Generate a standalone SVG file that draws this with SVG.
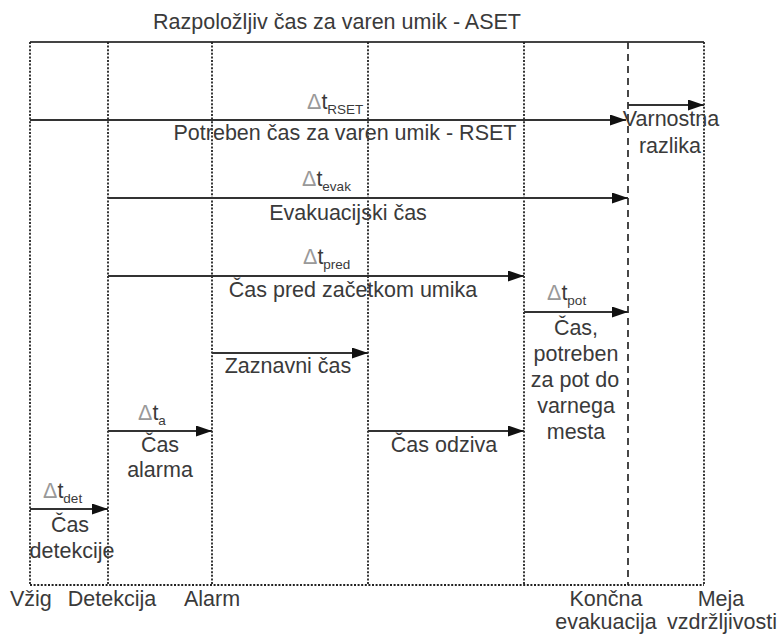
<svg xmlns="http://www.w3.org/2000/svg" width="782" height="635" viewBox="0 0 782 635">
<style>
text{font-family:"Liberation Sans",Arial,sans-serif;font-size:21.5px;fill:#3a3a3a}
.m{text-anchor:middle}
.d{fill:#999}
.s{font-size:13.5px}
.grid{stroke:#222;stroke-width:1.8;stroke-dasharray:2 1.6;fill:none}
.dash{stroke:#333;stroke-width:1.8;stroke-dasharray:7 5;fill:none}
.solid{stroke:#444;stroke-width:2;fill:none}
.arr{stroke:#333;stroke-width:2;fill:none;marker-end:url(#ah)}
</style>
<defs>
<marker id="ah" markerUnits="userSpaceOnUse" markerWidth="17" markerHeight="11" refX="16" refY="5.5" orient="auto">
<path d="M0,0 L16,5.5 L0,11 Z" fill="#111"/>
</marker>
</defs>
<g id="frame">
<line class="solid" x1="30" y1="42" x2="704" y2="42"/>
<line class="grid" x1="30" y1="42" x2="30" y2="585"/>
<line class="grid" x1="108" y1="42" x2="108" y2="585"/>
<line class="grid" x1="212" y1="42" x2="212" y2="585"/>
<line class="grid" x1="368" y1="42" x2="368" y2="585"/>
<line class="grid" x1="524" y1="42" x2="524" y2="585"/>
<line class="grid" x1="704" y1="42" x2="704" y2="585"/>
<line class="dash" x1="628" y1="42" x2="628" y2="585"/>
<line class="grid" x1="30" y1="585" x2="704" y2="585"/>
</g>
<g id="connectors">
<line class="arr" x1="30" y1="120" x2="626" y2="120"/>
<line class="arr" x1="628" y1="105" x2="704" y2="105"/>
<line class="arr" x1="108" y1="198" x2="628" y2="198"/>
<line class="arr" x1="108" y1="276" x2="524" y2="276"/>
<line class="arr" x1="524" y1="312" x2="628" y2="312"/>
<line class="arr" x1="212" y1="353" x2="368" y2="353"/>
<line class="arr" x1="108" y1="431" x2="212" y2="431"/>
<line class="arr" x1="368" y1="431" x2="524" y2="431"/>
<line class="arr" x1="30" y1="509" x2="108" y2="509"/>
</g>
<g id="title"><text class="m" x="337" y="29">Razpoložljiv čas za varen umik - ASET</text></g>
<g id="rset">
<text x="307" y="109"><tspan class="d">Δ</tspan>t<tspan class="s" dy="5">RSET</tspan></text>
<text class="m" x="345" y="140">Potreben čas za varen umik - RSET</text>
</g>
<g id="varnostna">
<text class="m" x="671" y="126">Varnostna</text>
<text class="m" x="670" y="153">razlika</text>
</g>
<g id="evak">
<text x="302" y="186"><tspan class="d">Δ</tspan>t<tspan class="s" dy="5">evak</tspan></text>
<text class="m" x="348" y="220">Evakuacijski čas</text>
</g>
<g id="pred">
<text x="303" y="264"><tspan class="d">Δ</tspan>t<tspan class="s" dy="5">pred</tspan></text>
<text class="m" x="353" y="297">Čas pred začetkom umika</text>
</g>
<g id="pot">
<text x="547" y="300"><tspan class="d">Δ</tspan>t<tspan class="s" dy="5">pot</tspan></text>
<text class="m" x="576" y="335">Čas,</text>
<text class="m" x="576" y="361">potreben</text>
<text class="m" x="575" y="387">za pot do</text>
<text class="m" x="576" y="413">varnega</text>
<text class="m" x="576" y="439">mesta</text>
</g>
<g id="zaznavni"><text class="m" x="288" y="373">Zaznavni čas</text></g>
<g id="alarm">
<text x="138" y="420"><tspan class="d">Δ</tspan>t<tspan class="s" dy="5">a</tspan></text>
<text class="m" x="160" y="452">Čas</text>
<text class="m" x="160" y="477">alarma</text>
</g>
<g id="odziv"><text class="m" x="444" y="452">Čas odziva</text></g>
<g id="det">
<text x="43" y="498"><tspan class="d">Δ</tspan>t<tspan class="s" dy="5">det</tspan></text>
<text class="m" x="70" y="532">Čas</text>
<text class="m" x="72" y="558">detekcije</text>
</g>
<g id="axis">
<text x="10" y="606">Vžig</text>
<text class="m" x="112" y="606">Detekcija</text>
<text class="m" x="212" y="606">Alarm</text>
<text class="m" x="606" y="606">Končna</text>
<text class="m" x="606" y="629">evakuacija</text>
<text class="m" x="721" y="606">Meja</text>
<text class="m" x="722" y="629">vzdržljivosti</text>
</g>
</svg>
